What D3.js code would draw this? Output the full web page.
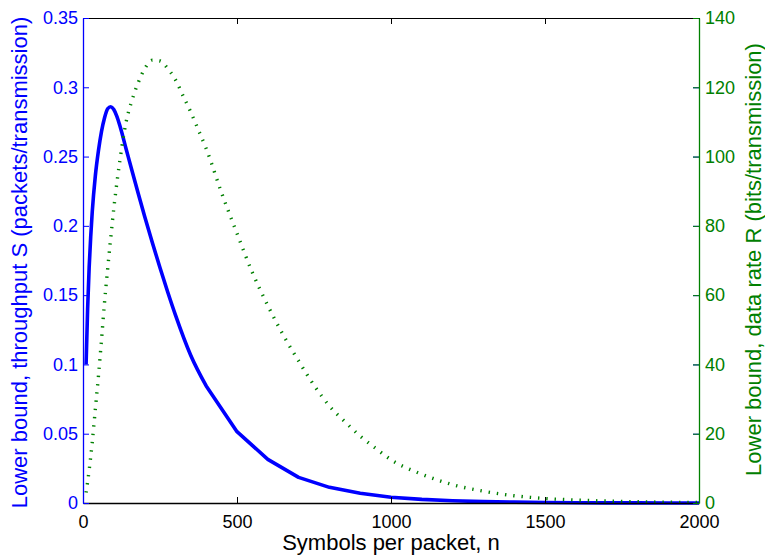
<!DOCTYPE html>
<html>
<head>
<meta charset="utf-8">
<script src="https://cdn.jsdelivr.net/npm/d3@7/dist/d3.min.js"></script>
<style>
  html, body { margin: 0; padding: 0; background: #fff; }
  svg { display: block; font-family: "Liberation Sans", Arial, Helvetica, sans-serif; }
</style>
</head>
<body>
<svg id="chart" width="765" height="556"></svg>
<script>
// ---- data ----
const sN = [10, 15, 20, 25, 30, 40, 50, 60, 70, 80, 90, 100, 110, 120, 140, 160, 180, 200, 225, 250, 275, 300, 350, 400,
            500, 600, 700, 800, 900, 1000, 1100, 1200, 1300, 1400, 1500, 1600, 1700, 1800, 1900, 2000];
const sVal = [0.100, 0.140, 0.170, 0.192, 0.210, 0.236, 0.254, 0.268, 0.278, 0.2845, 0.2860, 0.2840, 0.279, 0.272,
              0.2555, 0.2390, 0.2228, 0.2070, 0.1880, 0.1697, 0.1523, 0.1358, 0.1065, 0.0845,
              0.0515, 0.0315, 0.0185, 0.0113, 0.0070, 0.0042, 0.0026, 0.0016, 0.0010, 0.0006, 0.0004, 0.0002,
              0.0001, 0.0001, 0.0000, 0.0000];

const rN = [10, 20, 30, 40, 50, 60, 70, 80, 90, 100, 120, 140, 160, 180, 200, 225, 250, 275, 300, 325, 350, 375, 400,
            450, 500, 550, 600, 650, 700, 750, 800, 850, 900, 950, 1000, 1100, 1200, 1300, 1400, 1500, 1600, 1700,
            1800, 1900, 2000];
const rVal = [3.0, 9.5, 17.5, 27, 36.5, 47, 58, 67.5, 76.5, 85, 99, 110, 116.5, 121.5, 125.3, 127.8, 127.6, 125.4,
              122.2, 117.5, 112.8, 107.6, 102.3, 89.5, 77.8, 66.5, 57, 48.5, 41, 34, 28, 23.5, 19.3, 15.8, 12.5,
              8.3, 5.3, 3.4, 2.1, 1.3, 0.85, 0.55, 0.35, 0.22, 0.14];

const xTicks = [0, 500, 1000, 1500, 2000];
const sTicks = [0, 0.05, 0.1, 0.15, 0.2, 0.25, 0.3, 0.35];
const rTicks = [0, 20, 40, 60, 80, 100, 120, 140];

const xLabel = "Symbols per packet, n";
const sLabel = "Lower bound, throughput S (packets/transmission)";
const rLabel = "Lower bound, data rate R (bits/transmission)";

// ---- layout ----
const BLUE = "#0000ff", GREEN = "#008000";
const L = 83, R = 699, T = 18, B = 503;
const svg = d3.select("#chart");

const x = d3.scaleLinear().domain([0, 2000]).range([L, R]);
const yS = d3.scaleLinear().domain([0, 0.35]).range([B, T]);
const yR = d3.scaleLinear().domain([0, 140]).range([B, T]);

const tickFont = 18;
const ff = "Liberation Sans, Arial, sans-serif";

// top border with ticks
const gTop = svg.append("g").attr("transform", `translate(0,${T})`)
  .call(d3.axisTop(x).tickValues(xTicks).tickSizeInner(-6).tickSizeOuter(0).tickFormat(""));
gTop.select(".domain").attr("stroke", "#000");
gTop.selectAll(".tick line").attr("stroke", "#000");

// mirrored blue ticks on right
const gSR = svg.append("g").attr("transform", `translate(${R},0)`)
  .call(d3.axisRight(yS).tickValues(sTicks).tickSizeInner(-6).tickSizeOuter(0).tickFormat(""));
gSR.select(".domain").remove();
gSR.selectAll(".tick line").attr("stroke", BLUE);

// curves
const sPts = sN.map((n, i) => [n, sVal[i]]);
const smoothPart = sPts.filter(p => p[0] <= 400);
const linearPart = sPts.filter(p => p[0] >= 400);
const lineSsmooth = d3.line().x(d => x(d[0])).y(d => yS(d[1])).curve(d3.curveMonotoneX);
const lineSlin = d3.line().x(d => x(d[0])).y(d => yS(d[1]));
svg.append("path").attr("d", lineSsmooth(smoothPart) + lineSlin(linearPart).replace(/^M/, "L"))
  .attr("fill", "none").attr("stroke", BLUE).attr("stroke-width", 3.6)
  .attr("stroke-linejoin", "round");

const lineR = d3.line().x((d, i) => x(rN[i])).y(d => yR(d)).curve(d3.curveMonotoneX);
svg.append("path").datum(rVal)
  .attr("d", lineR)
  .attr("fill", "none").attr("stroke", GREEN).attr("stroke-width", 3.4)
  .attr("stroke-dasharray", "1.4,6.9").attr("stroke-linecap", "butt");

// bottom axis
const gX = svg.append("g").attr("transform", `translate(0,${B})`)
  .call(d3.axisBottom(x).tickValues(xTicks).tickSizeInner(-6).tickSizeOuter(0).tickPadding(12)
    .tickFormat(d => String(d)));
gX.select(".domain").attr("stroke", "#000").attr("stroke-width", 1.3);
gX.selectAll(".tick line").attr("stroke", "#000");
gX.selectAll(".tick text").attr("fill", "#000").attr("font-size", tickFont).attr("font-family", ff);

// left axis
const gS = svg.append("g").attr("transform", `translate(${L},0)`)
  .call(d3.axisLeft(yS).tickValues(sTicks).tickSizeInner(-6).tickSizeOuter(0).tickPadding(5)
    .tickFormat(d => String(d)));
gS.select(".domain").attr("stroke", BLUE).attr("stroke-width", 1.3);
gS.selectAll(".tick line").attr("stroke", BLUE);
gS.selectAll(".tick text").attr("fill", BLUE).attr("font-size", tickFont).attr("font-family", ff);

// right axis
const gR = svg.append("g").attr("transform", `translate(${R},0)`)
  .call(d3.axisRight(yR).tickValues(rTicks).tickSizeInner(-6).tickSizeOuter(0).tickPadding(6)
    .tickFormat(d => String(d)));
gR.select(".domain").attr("stroke", GREEN).attr("stroke-width", 1.3);
gR.selectAll(".tick line").attr("stroke", GREEN);
gR.selectAll(".tick text").attr("fill", GREEN).attr("font-size", tickFont).attr("font-family", ff);

// axis labels
const labelFont = 22;
svg.append("text").text(xLabel)
  .attr("x", (L + R) / 2).attr("y", 550)
  .attr("text-anchor", "middle").attr("font-size", labelFont).attr("fill", "#000");

svg.append("text").text(sLabel)
  .attr("transform", `translate(27,${(T + B) / 2 + 2}) rotate(-90)`)
  .attr("text-anchor", "middle").attr("font-size", labelFont).attr("fill", BLUE);

svg.append("text").text(rLabel)
  .attr("transform", `translate(761,${(T + B) / 2 - 1}) rotate(-90)`)
  .attr("text-anchor", "middle").attr("font-size", labelFont).attr("fill", GREEN);
</script>
</body>
</html>
